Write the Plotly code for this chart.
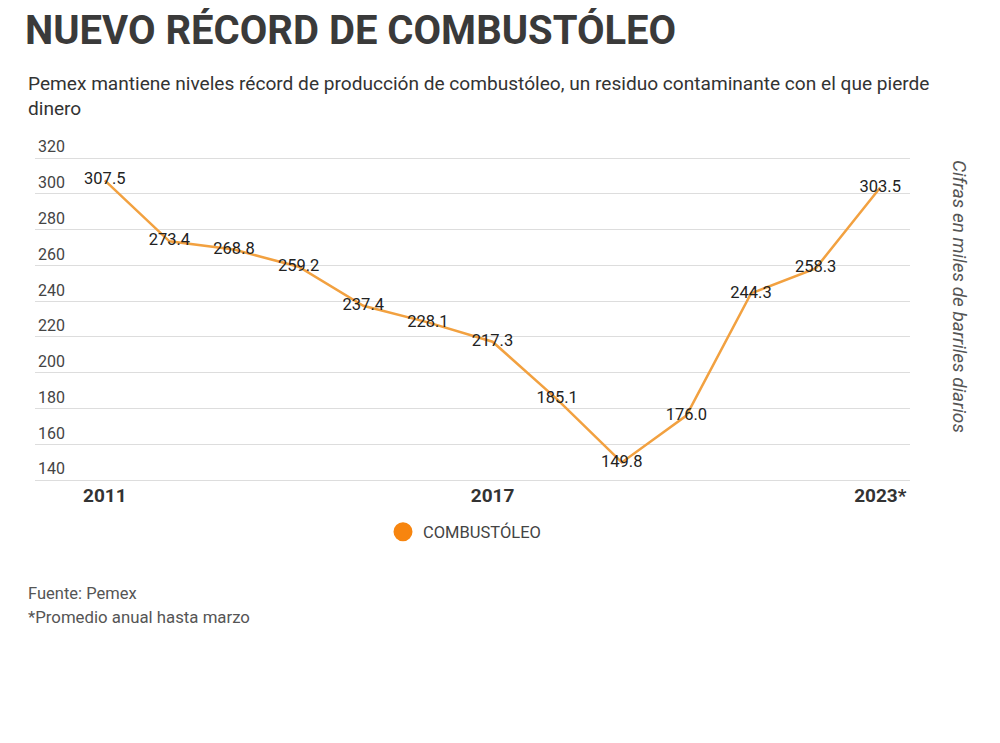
import plotly.graph_objects as go

# Datos: producción de combustóleo de Pemex (miles de barriles diarios)
years = [2011, 2012, 2013, 2014, 2015, 2016, 2017, 2018, 2019, 2020, 2021, 2022, 2023]
values = [307.5, 273.4, 268.8, 259.2, 237.4, 228.1, 217.3, 185.1, 149.8, 176.0, 244.3, 258.3, 303.5]
tick_years = [2011, 2017, 2023]
tick_labels = ["2011", "2017", "2023*"]
y_ticks = [140, 160, 180, 200, 220, 240, 260, 280, 300, 320]

W, H = 1000, 743
OFF = 8  # la página añade 8 px de margen al cuerpo

# posiciones (px de pantalla) de la cuadrícula: 320 -> 158, 140 -> 480
GRID_TOP, GRID_BOT = 158, 480
SCALE = (GRID_BOT - GRID_TOP) / (320 - 140)
PLOT_L, PLOT_R, PLOT_T, PLOT_B = 35, 910, 136, 482

y_range = [140 - (PLOT_B - GRID_BOT) / SCALE, 320 + (GRID_TOP - PLOT_T) / SCALE]


def px_x(x):
    return (x - PLOT_L) / (PLOT_R - PLOT_L)


def px_y(y):
    return (PLOT_B - y) / (PLOT_B - PLOT_T)


fig = go.Figure()

fig.add_trace(go.Scatter(
    x=years,
    y=values,
    mode="lines+text",
    line=dict(color="#F2A140", width=2.5),
    text=[f"{v:.1f}" for v in values],
    textposition="middle center",
    textfont=dict(family="Roboto", size=16.5, color="#222222"),
    showlegend=False,
    hoverinfo="x+y",
))

# Entrada de leyenda (círculo naranja)
fig.add_trace(go.Scatter(
    x=[None], y=[None],
    mode="markers",
    marker=dict(color="#F7850F", size=16, line=dict(color="#F7850F", width=3)),
    name="COMBUSTÓLEO",
))

fig.update_layout(
    width=W,
    height=H,
    paper_bgcolor="white",
    plot_bgcolor="white",
    margin=dict(l=PLOT_L - OFF, r=W - PLOT_R + OFF, t=PLOT_T - OFF,
                b=H - PLOT_B + OFF, autoexpand=False),
    font=dict(family="Roboto", color="#333333"),
    title=dict(
        text="<b>NUEVO RÉCORD DE COMBUSTÓLEO</b>",
        x=17 / W, xref="container", xanchor="left",
        y=1 - (30 - OFF) / H, yref="container", yanchor="middle",
        font=dict(family="Roboto", size=40, color="#3a3a3a"),
    ),
    legend=dict(
        orientation="h",
        xref="container", yref="container",
        x=(383 - OFF) / W, xanchor="left",
        y=1 - (532 - OFF) / H, yanchor="middle",
        font=dict(family="Roboto", size=16.5, color="#444444"),
        itemsizing="trace",
    ),
    xaxis=dict(
        range=[2009.92, 2023.46],
        tickvals=tick_years,
        ticktext=[f"<b>{t}</b>" for t in tick_labels],
        tickfont=dict(family="Roboto", size=19, color="#333333"),
        showgrid=False,
        zeroline=False,
        showline=False,
        ticks="",
        automargin=False,
    ),
    yaxis=dict(
        range=y_range,
        tickvals=y_ticks,
        ticklabelposition="inside top",
        tickfont=dict(family="Roboto", size=16, color="#444444"),
        gridcolor="#dddddd",
        gridwidth=1,
        zeroline=False,
        showline=False,
        ticks="",
        automargin=False,
    ),
    annotations=[
        dict(
            text="Pemex mantiene niveles récord de producción de combustóleo, un residuo contaminante con el que pierde<br>dinero",
            xref="paper", yref="paper",
            x=px_x(26), y=px_y(70),
            xanchor="left", yanchor="top", align="left",
            showarrow=False,
            font=dict(family="Roboto", size=19.1, color="#333333"),
        ),
        dict(
            text="<i>Cifras en miles de barriles diarios</i>",
            xref="paper", yref="paper",
            x=px_x(960), y=px_y(296),
            xanchor="center", yanchor="middle",
            textangle=90,
            showarrow=False,
            font=dict(family="Roboto", size=19, color="#555555"),
        ),
        dict(
            text="Fuente: Pemex",
            xref="paper", yref="paper",
            x=px_x(26), y=px_y(593),
            xanchor="left", yanchor="middle", align="left",
            showarrow=False,
            font=dict(family="Roboto", size=16.5, color="#555555"),
        ),
        dict(
            text="*Promedio anual hasta marzo",
            xref="paper", yref="paper",
            x=px_x(26), y=px_y(617),
            xanchor="left", yanchor="middle", align="left",
            showarrow=False,
            font=dict(family="Roboto", size=16.8, color="#555555"),
        ),
    ],
)

fig.write_html("out.html")
